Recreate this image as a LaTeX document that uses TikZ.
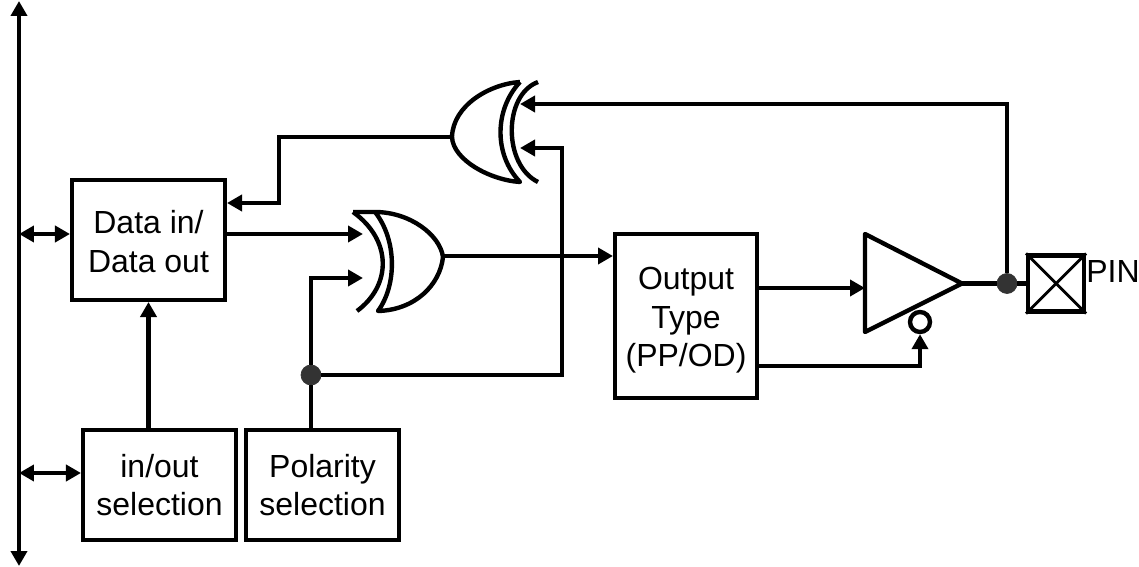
\documentclass[tikz,border=0pt]{standalone}
\usepackage{fontspec}
\setmainfont{Liberation Sans}
\usetikzlibrary{positioning,arrows.meta}
\begin{document}
\begin{tikzpicture}[x=0.02cm,y=-0.02cm,font=\fontsize{18.2}{22}\selectfont,
 b/.style={draw=black,line width=2.3pt,align=center,inner sep=0pt},
 g/.style={draw=black,line width=2.5pt,line join=round,fill=white},
 a/.style={-{Triangle[length=3mm,width=3.2mm]},line width=2.8pt,black},
 l/.style={line width=2.8pt,black},
 aa/.style={{Triangle[length=3mm,width=3.2mm]}-{Triangle[length=3mm,width=3.2mm]},line width=2.8pt,black},
 j/.style={circle,fill=black!80,draw=black!80,minimum size=4mm,inner sep=0pt}]
\useasboundingbox (0,0) rectangle (1139,567);
\node[b,minimum width=3.06cm,minimum height=2.4cm] (data) at (148.5,240) {\rule{0pt}{14.7pt}Data in/\\Data out};
\node[b,minimum width=3.06cm,minimum height=2.2cm] (inout) at (159.5,485) {in/out\\selection};
\node[b,minimum width=3.06cm,minimum height=2.2cm] (pol) at (322.5,485) {Polarity\\selection};
\node[b,minimum width=2.84cm,minimum height=3.28cm] (type) at (686,316) {\rule{0pt}{17.5pt}Output\\Type\\(PP/OD)};
\node[b,minimum width=1.12cm,minimum height=1.12cm] (pad) at (1056,283.5) {};
\draw[l,line width=1.6pt] (pad.north west) -- (pad.south east) (pad.north east) -- (pad.south west);
\node[anchor=west,inner sep=0pt] (pin) at (1086,272) {PIN};
\coordinate (bustop) at (19,1);
\coordinate (busbot) at (19,566);
\coordinate (busa) at (19,234);
\coordinate (busb) at (19,473);
\draw[aa] (bustop) -- (busbot);
\draw[aa] (busa) -- (busa -| data.west);
\draw[aa] (busb) -- (busb -| inout.west);
\draw[g] (353,212) -- (375,212) .. controls (410,212) and (440,235) .. (443,257) .. controls (440,285) and (415,310) .. (378,311) .. controls (397,285) and (397,240) .. (375,212);
\draw[g,fill=none] (353,212) .. controls (392,240) and (392,285) .. (357,311);
\draw[g] (520,82) .. controls (490,84) and (453,105) .. (452,137) .. controls (453,160) and (490,180) .. (520,182) .. controls (494,155) and (494,110) .. (520,82);
\draw[g,fill=none] (538,82) .. controls (503,95) and (503,165) .. (538,182);
\draw[g] (865,234) -- (962,283.5) -- (865,332) -- cycle;
\node[circle,draw=black,line width=2.5pt,fill=white,minimum size=4mm,inner sep=0pt] (inv) at (920,322) {};
\coordinate (xorlow) at (443,256);
\coordinate (xorlowa) at (363,234);
\coordinate (xorlowb) at (363,278);
\coordinate (xortop) at (452,137);
\coordinate (xortopa) at (520,104);
\coordinate (xortopb) at (520,148);
\coordinate (bufin) at (865,288);
\coordinate (bufout) at (962,283.5);
\coordinate (fb) at (279,203);
\node[j] (jpol) at (311,375) {};
\node[j] (jpin) at (1007,283.5) {};
\draw[a] (inout.north -| data.south) -- (data.south);
\draw[a] (data.east |- xorlowa) -- (xorlowa);
\draw[l] (pol.north -| jpol) -- (jpol);
\draw[a] (jpol) -- (xorlowb -| jpol) -- (xorlowb);
\draw[a] (jpol) -- (562,375) -- (562,148) -- (xortopb);
\draw[a] (xortop) -- (279,137) -- (fb) -- (fb -| data.east);
\draw[a] (xorlow) -- (xorlow -| type.west);
\draw[a] (type.east |- bufin) -- (bufin);
\draw[a] (757,366) -- (920,366) -- (inv.south);
\draw[l] (bufout) -- (jpin);
\draw[l] (jpin) -- (pad.west);
\draw[a] (jpin) -- (jpin |- xortopa) -- (xortopa);
\end{tikzpicture}
\end{document}
